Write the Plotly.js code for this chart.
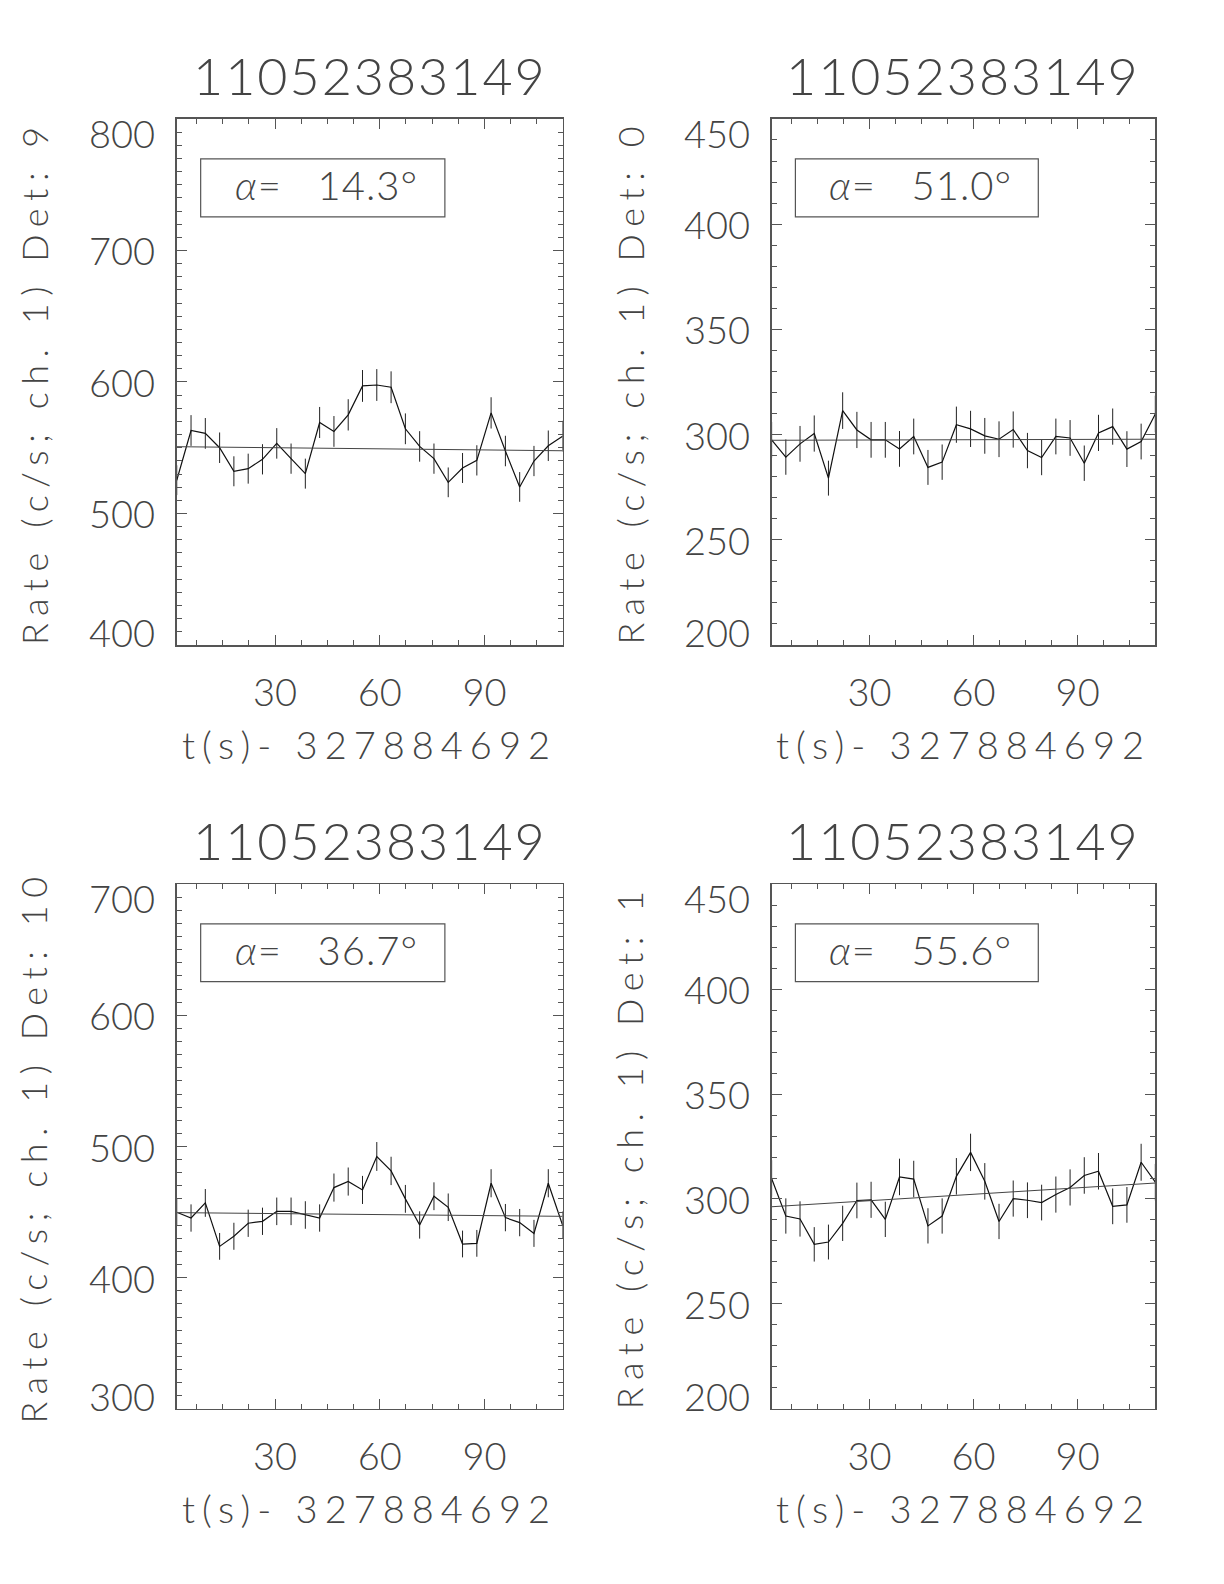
<!DOCTYPE html>
<html>
<head>
<meta charset="utf-8">
<script src="https://cdn.plot.ly/plotly-3.0.1.min.js"></script>
<style>
  html, body { margin: 0; padding: 0; background: #ffffff; }
  #chart { width: 1224px; height: 1584px; }
</style>
</head>
<body>
<div id="chart"></div>
<script>
// ---- Data ----
const timeS = [1.80, 5.90, 9.99, 14.09, 18.18, 22.28, 26.38, 30.47, 34.57, 38.66, 42.76, 46.86, 50.95, 55.05,
               59.14, 63.24, 67.34, 71.43, 75.53, 79.62, 83.72, 87.82, 91.91, 96.01, 100.10, 104.20, 108.30, 112.39];
const fitTime = [1.80, 112.39];

const rateDet9 = [525.3, 563.1, 560.9, 550.0, 532.1, 534.1, 541.2, 553.3, 541.7, 530.3, 569.2, 562.4, 575.0, 597.0,
                  597.7, 596.0, 564.4, 551.0, 541.7, 523.7, 534.6, 540.4, 576.5, 547.5, 520.2, 539.9, 551.5, 558.8];
const errDet9  = [11.3, 11.7, 11.7, 11.6, 11.4, 11.4, 11.5, 11.6, 11.5, 11.4, 11.8, 11.7, 11.9, 12.1,
                  12.1, 12.1, 11.7, 11.6, 11.5, 11.3, 11.4, 11.5, 11.9, 11.6, 11.3, 11.5, 11.6, 11.7];
const fitDet9  = [550.8, 547.7];

const rateDet0 = [297.5, 289.3, 295.6, 300.5, 279.3, 311.4, 302.2, 297.5, 297.5, 293.2, 299.1, 284.4, 286.9, 304.7,
                  302.7, 299.4, 297.8, 302.4, 292.4, 289.1, 299.1, 298.4, 286.4, 300.8, 303.8, 293.1, 296.7, 309.8];
const errDet0  = [8.5, 8.4, 8.5, 8.6, 8.3, 8.7, 8.6, 8.5, 8.5, 8.5, 8.5, 8.3, 8.4, 8.6,
                  8.6, 8.5, 8.5, 8.6, 8.4, 8.4, 8.5, 8.5, 8.4, 8.6, 8.6, 8.5, 8.5, 8.7];
const fitDet0  = [297.3, 297.8];

const rateDet10 = [449.9, 445.5, 457.0, 423.9, 431.6, 441.5, 443.0, 450.6, 450.6, 447.8, 445.5, 468.7, 473.3, 466.9,
                   492.4, 481.4, 460.1, 440.2, 462.1, 453.7, 425.7, 426.2, 472.0, 445.8, 442.0, 433.8, 472.0, 440.2];
const errDet10  = [10.5, 10.4, 10.6, 10.2, 10.3, 10.4, 10.4, 10.5, 10.5, 10.5, 10.4, 10.7, 10.7, 10.7,
                   11.0, 10.8, 10.6, 10.4, 10.6, 10.5, 10.2, 10.2, 10.7, 10.4, 10.4, 10.3, 10.7, 10.4];
const fitDet10  = [449.6, 446.8];

const rateDet1 = [309.8, 291.9, 290.5, 278.4, 279.5, 288.4, 299.3, 299.6, 290.3, 310.5, 309.5, 287.2, 291.9, 310.8,
                  322.2, 308.4, 289.3, 300.2, 299.4, 298.3, 302.1, 305.5, 311.2, 313.2, 296.5, 297.2, 317.5, 308.0];
const errDet1  = [8.7, 8.4, 8.4, 8.2, 8.3, 8.4, 8.5, 8.6, 8.4, 8.7, 8.7, 8.4, 8.4, 8.7,
                  8.9, 8.7, 8.4, 8.6, 8.5, 8.5, 8.6, 8.6, 8.7, 8.7, 8.5, 8.5, 8.8, 8.7];
const fitDet1  = [296.3, 307.6];

const panelTitles = ['11052383149', '11052383149', '11052383149', '11052383149'];
const yTitles = ['Rate (c/s; ch. 1) Det: 9', 'Rate (c/s; ch. 1) Det: 0', 'Rate (c/s; ch. 1) Det: 10', 'Rate (c/s; ch. 1) Det: 1'];
const xTitle = 't(s)- 327884692';
const alphaDeg = ['14.3', '51.0', '36.7', '55.6'];
const xTickVals = [30, 60, 90];
const yTicksP1 = [400, 500, 600, 700, 800];
const yTicksP2 = [200, 250, 300, 350, 400, 450];
const yTicksP3 = [300, 400, 500, 600, 700];
const yTicksP4 = [200, 250, 300, 350, 400, 450];

// ---- Panel definitions ----
const panels = [
  {rate: rateDet9,  err: errDet9,  fit: fitDet9,  yTicks: yTicksP1, dx: [0.1444, 0.4596], dy: [0.5928, 0.9249]},
  {rate: rateDet0,  err: errDet0,  fit: fitDet0,  yTicks: yTicksP2, dx: [0.6304, 0.9439], dy: [0.5928, 0.9249]},
  {rate: rateDet10, err: errDet10, fit: fitDet10, yTicks: yTicksP3, dx: [0.1444, 0.4596], dy: [0.1105, 0.4419]},
  {rate: rateDet1,  err: errDet1,  fit: fitDet1,  yTicks: yTicksP4, dx: [0.6304, 0.9439], dy: [0.1105, 0.4419]}
];

const FONT = "Lato, 'Open Sans', 'DejaVu Sans', sans-serif";
const TXT = '#444444';
const AX = '#555555';
const SP = '\u00a0';

const data = [];
const layout = {
  width: 1224, height: 1584,
  margin: {l: 0, r: 0, t: 0, b: 0},
  paper_bgcolor: '#ffffff', plot_bgcolor: '#ffffff',
  showlegend: false,
  font: {family: FONT, color: TXT, size: 38, weight: 300},
  annotations: [], shapes: []
};

panels.forEach((p, i) => {
  const n = i + 1;
  const xa = n === 1 ? 'x' : 'x' + n;
  const ya = n === 1 ? 'y' : 'y' + n;
  const xKey = n === 1 ? 'xaxis' : 'xaxis' + n;
  const yKey = n === 1 ? 'yaxis' : 'yaxis' + n;
  const ymin = p.yTicks[0], ymax = p.yTicks[p.yTicks.length - 1];

  data.push({
    x: timeS, y: p.rate, xaxis: xa, yaxis: ya, type: 'scatter', mode: 'lines',
    line: {color: '#111111', width: 1.2},
    error_y: {type: 'data', array: p.err, visible: true, thickness: 1, width: 0, color: '#222222'},
    hoverinfo: 'skip'
  });
  data.push({
    x: fitTime, y: p.fit, xaxis: xa, yaxis: ya, type: 'scatter', mode: 'lines',
    line: {color: '#444444', width: 1}, hoverinfo: 'skip'
  });

  const common = {
    showline: true, linecolor: AX, linewidth: 1.5, mirror: 'allticks',
    ticks: 'inside', ticklen: 10, tickwidth: 1, tickcolor: AX,
    showgrid: false, zeroline: false, fixedrange: true
  };
  layout[xKey] = Object.assign({}, common, {
    domain: p.dx, anchor: ya, range: [fitTime[0], fitTime[1]],
    tickmode: 'array', tickvals: xTickVals,
    tickfont: {family: FONT, size: 38, color: TXT, weight: 300},
    ticklabelstandoff: 14,
    minor: {ticks: 'inside', ticklen: 5, tickwidth: 1, tickcolor: AX, tickmode: 'linear', tick0: 0, dtick: 7.5}
  });
  layout[yKey] = Object.assign({}, common, {
    domain: p.dy, anchor: xa, range: [ymin, ymax],
    tickmode: 'array', tickvals: p.yTicks, showticklabels: false,
    minor: {ticks: 'inside', ticklen: 5, tickwidth: 1, tickcolor: AX, tickmode: 'linear', tick0: 0, dtick: 10}
  });

  // y tick labels (end labels sit inside the axis span as in the reference)
  p.yTicks.forEach((v, k) => {
    let shift = 0;
    if (k === 0) shift = 13;
    if (k === p.yTicks.length - 1) shift = -14;
    layout.annotations.push({
      xref: xa + ' domain', yref: ya, x: -0.052, y: v, xanchor: 'right', yanchor: 'middle',
      yshift: shift, showarrow: false, text: String(v),
      font: {family: FONT, size: 38, color: TXT, weight: 300}
    });
  });

  // panel title
  layout.annotations.push({
    xref: xa + ' domain', yref: ya + ' domain', x: 0.5, y: 1.084, xanchor: 'center', yanchor: 'middle',
    showarrow: false, text: '<span style="letter-spacing:2px">' + panelTitles[i] + '</span>',
    font: {family: FONT, size: 52, color: TXT, weight: 300}
  });
  // x title
  layout.annotations.push({
    xref: xa + ' domain', yref: ya + ' domain', x: 0.5, y: -0.188, xanchor: 'center', yanchor: 'middle',
    showarrow: false, text: '<span style="letter-spacing:7px">' + xTitle + '</span>',
    font: {family: FONT, size: 38, color: TXT, weight: 300}
  });
  // y title
  layout.annotations.push({
    xref: xa + ' domain', yref: ya + ' domain', x: -0.37, y: 0.5, xanchor: 'center', yanchor: 'middle',
    textangle: -90, showarrow: false, text: '<span style="letter-spacing:7.5px">' + yTitles[i] + '</span>',
    font: {family: FONT, size: 36, color: TXT, weight: 300}
  });
  // alpha box
  layout.shapes.push({
    type: 'rect', xref: xa + ' domain', yref: ya + ' domain',
    x0: 0.062, x1: 0.695, y0: 0.814, y1: 0.924,
    line: {color: AX, width: 1.2}, fillcolor: 'rgba(0,0,0,0)'
  });
  layout.annotations.push({
    xref: xa + ' domain', yref: ya + ' domain', x: 0.387, y: 0.874, xanchor: 'center', yanchor: 'middle',
    showarrow: false,
    text: '<span style="letter-spacing:1px"><i>α</i>=' + SP + SP + SP + alphaDeg[i] + '°</span>',
    font: {family: FONT, size: 40, color: TXT, weight: 300}
  });
});

Plotly.newPlot('chart', data, layout, {staticPlot: true, displayModeBar: false});
</script>
</body>
</html>
